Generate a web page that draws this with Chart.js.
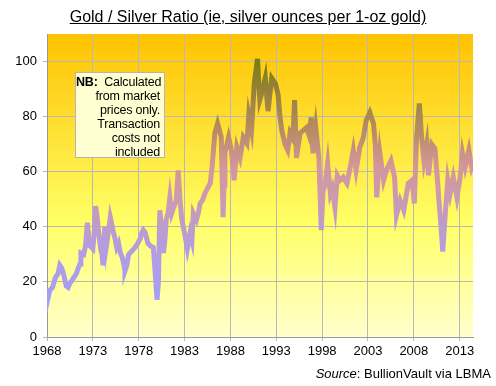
<!DOCTYPE html>
<html>
<head>
<meta charset="utf-8">
<script src="https://cdn.jsdelivr.net/npm/chart.js@4.4.1/dist/chart.umd.min.js"></script>
<style>
  html, body { margin: 0; padding: 0; background: #fff; }
  #wrap { position: relative; width: 496px; height: 386px; font-family: "Liberation Sans", Arial, sans-serif; }
  #title { position: absolute; left: 0; top: 8px; width: 496px; text-align: center; font-size: 16px; text-decoration: underline; color: #000; }
  #note { position: absolute; left: 75px; top: 72px; width: 90px; height: 86px; box-sizing: border-box; padding: 2px 4px 0 0; background: #ffffd2; border: 1px solid #b4b4b4; text-align: right; font-size: 12.5px; line-height: 14px; color: #000; white-space: nowrap; letter-spacing: -0.2px; }
  #source { position: absolute; right: 5px; top: 366px; font-size: 13px; color: #000; }
  canvas { position: absolute; left: 0; top: 0; }
</style>
</head>
<body>
<div id="wrap">
  <canvas id="ratioChart" width="496" height="386"></canvas>
  <div id="title">Gold / Silver Ratio (ie, silver ounces per 1-oz gold)</div>
  <div id="note"><b>NB:</b>&nbsp; Calculated<br>from market<br>prices only.<br>Transaction<br>costs not<br>included</div>
  <div id="source"><i>Source</i>: BullionVault via LBMA</div>
</div>
<script>
// --- Datos ---
const years = [
  1968.0, 1968.1, 1968.3, 1968.6, 1968.9, 1969.2, 1969.4, 1969.6, 1969.8, 1970.1,
  1970.3, 1970.5, 1970.7, 1970.9, 1971.2, 1971.4, 1971.6, 1971.7, 1972.0, 1972.2,
  1972.4, 1972.55, 1972.7, 1973.0, 1973.2, 1973.3, 1973.45, 1973.6, 1973.85, 1974.0,
  1974.1, 1974.2, 1974.3, 1974.45, 1974.65, 1974.9, 1975.0, 1975.2, 1975.4, 1975.6,
  1975.8, 1976.0, 1976.2, 1976.4, 1976.5, 1976.7, 1976.9, 1977.2, 1977.6, 1977.9,
  1978.2, 1978.3, 1978.5, 1978.7, 1979.0, 1979.3, 1979.6, 1979.8, 1980.0, 1980.15,
  1980.3, 1980.5, 1980.7, 1980.85, 1981.0, 1981.2, 1981.4, 1981.6, 1981.8, 1982.1,
  1982.3, 1982.5, 1982.7, 1983.0, 1983.3, 1983.6, 1983.8, 1983.95, 1984.3, 1984.5,
  1984.7, 1985.0, 1985.2, 1985.5, 1985.8, 1986.0, 1986.3, 1986.6, 1986.8, 1987.0,
  1987.2, 1987.3, 1987.4, 1987.8, 1988.1, 1988.4, 1988.7, 1989.05, 1989.4, 1989.8,
  1990.0, 1990.3, 1990.6, 1990.95, 1991.2, 1991.5, 1991.8, 1992.1, 1992.5, 1992.9,
  1993.2, 1993.4, 1993.6, 1993.95, 1994.25, 1994.5, 1994.8, 1995.0, 1995.2, 1995.6,
  1995.95, 1996.3, 1996.6, 1996.8, 1997.0, 1997.3, 1997.65, 1997.9, 1998.1, 1998.3,
  1998.6, 1998.9, 1999.1, 1999.4, 1999.65, 1999.95, 2000.3, 2000.7, 2001.0, 2001.4,
  2001.7, 2002.1, 2002.5, 2002.8, 2003.2, 2003.6, 2003.8, 2003.95, 2004.3, 2004.7,
  2005.0, 2005.5, 2005.9, 2006.1, 2006.5, 2006.9, 2007.1, 2007.4, 2007.8, 2008.05,
  2008.3, 2008.6, 2008.85, 2009.1, 2009.4, 2009.6, 2009.95, 2010.3, 2010.55, 2010.8,
  2011.05, 2011.15, 2011.4, 2011.7, 2011.95, 2012.3, 2012.7, 2013.05, 2013.3, 2013.6,
  2014.0, 2014.3, 2014.45
];
const ratio = [
  17, 14, 17, 18, 21.5, 23, 26, 25, 23, 18.5,
  18, 19.5, 20.5, 21.5, 23, 25, 26.5, 30.5, 30, 33,
  41.5, 36, 33, 32, 40, 47.5, 44, 39, 32, 30,
  26, 33, 40, 32.5, 37, 43.5, 42, 38.5, 36, 32.5,
  34, 30.5, 29, 26, 24, 26, 30, 31, 32.5, 34,
  36, 37.5, 38.8, 38, 34, 33, 32.5, 23, 13.5, 20,
  46, 40, 30.5, 35, 42.5, 45, 50.7, 45, 47, 49.6,
  60.5, 50, 42.5, 37.7, 32, 37.7, 35, 45, 42.5, 45,
  48.5, 50, 52, 54, 55.8, 61.6, 74, 77.5, 75, 72.5,
  43.5, 55, 66.7, 72.5, 67.8, 56.9, 68.8, 65, 72.5, 70.3,
  80.4, 75, 92, 101, 86, 89.5, 94, 82, 94, 92,
  88, 80, 75, 70, 67.8, 74, 72, 86, 65, 74,
  75, 76, 73, 79.7, 66.7, 76, 65, 38.8, 53, 55,
  63, 52, 54, 47, 58.7, 56.9, 58, 55.8, 60.5, 67.8,
  60.5, 68.8, 72.5, 78.6, 81.5, 77.5, 70, 50.7, 66.7, 56.9,
  60.5, 64, 58, 44.2, 49.6, 46, 50, 55.8, 56.9, 48.5,
  72.5, 84.8, 72.5, 64, 70, 58.7, 70, 68.4, 58, 47,
  36, 31, 43.5, 56.9, 52, 58, 50.7, 58, 66.7, 61.6,
  67.8, 61.6, 63
];
const tickYears = [1968, 1973, 1978, 1983, 1988, 1993, 1998, 2003, 2008, 2013];
const yTicks = [0, 20, 40, 60, 80, 100];

const points = years.map((y, i) => ({ x: y, y: ratio[i] }));

// --- Fondo degradado del área del gráfico ---
const fondoPlugin = {
  id: 'fondo',
  beforeDraw(chart) {
    const { ctx, chartArea } = chart;
    if (!chartArea) return;
    const g = ctx.createLinearGradient(0, chartArea.top, 0, chartArea.bottom);
    g.addColorStop(0, '#ffc200');
    g.addColorStop(0.35, '#ffe43a');
    g.addColorStop(0.62, '#ffff66');
    g.addColorStop(1, '#ffffcc');
    ctx.save();
    ctx.fillStyle = g;
    ctx.fillRect(chartArea.left, chartArea.top, chartArea.right - chartArea.left, chartArea.bottom - chartArea.top);
    ctx.restore();
  }
};

// color de la línea según el valor
function colorLinea(context) {
  const chart = context.chart;
  const { ctx, chartArea, scales } = chart;
  if (!chartArea) return '#c49ac4';
  const y0 = scales.y.getPixelForValue(10);
  const y1 = scales.y.getPixelForValue(100);
  const g = ctx.createLinearGradient(0, y0, 0, y1);
  g.addColorStop(0, '#a2a0fa');
  g.addColorStop(0.25, '#b49ce0');
  g.addColorStop(0.45, '#cc9ab0');
  g.addColorStop(0.58, '#d4969a');
  g.addColorStop(0.72, '#b88c64');
  g.addColorStop(0.85, '#9c8442');
  g.addColorStop(1, '#7c7c18');
  return g;
}

new Chart(document.getElementById('ratioChart').getContext('2d'), {
  type: 'line',
  data: {
    datasets: [{
      data: points,
      borderColor: colorLinea,
      borderWidth: 5,
      pointRadius: 0,
      tension: 0,
      fill: false
    }]
  },
  options: {
    responsive: false,
    animation: false,
    layout: { padding: { left: 0, top: 34, right: 23, bottom: 0 } },
    plugins: { legend: { display: false }, tooltip: { enabled: false } },
    scales: {
      x: {
        type: 'linear',
        min: 1968,
        max: 2014.45,
        afterBuildTicks: s => { s.ticks = tickYears.map(v => ({ value: v })); },
        afterFit: s => { s.height = 49; },
        grid: { color: '#b8b8b8', tickLength: 4, drawTicks: true },
        border: { display: true, color: '#999999' },
        ticks: {
          color: '#000',
          padding: 3,
          maxRotation: 0,
          autoSkip: false,
          font: { family: '"Liberation Sans", Arial, sans-serif', size: 13 },
          callback: v => String(v)
        }
      },
      y: {
        min: 0,
        max: 110,
        afterBuildTicks: s => { s.ticks = yTicks.map(v => ({ value: v })); },
        afterFit: s => { s.width = 47; },
        grid: { color: '#b8b8b8', tickLength: 4, drawTicks: true },
        border: { display: true, color: '#999999' },
        ticks: {
          color: '#000',
          padding: 6,
          font: { family: '"Liberation Sans", Arial, sans-serif', size: 13 }
        }
      }
    }
  },
  plugins: [fondoPlugin]
});
</script>
</body>
</html>
